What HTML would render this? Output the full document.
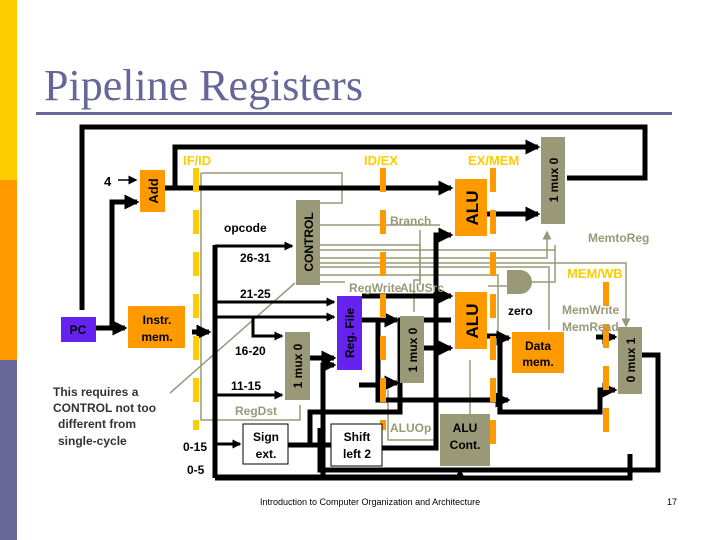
<!DOCTYPE html>
<html><head><meta charset="utf-8"><style>
html,body{margin:0;padding:0;background:#fff;}
svg{display:block}
text{font-family:"Liberation Sans",Arial,sans-serif;font-weight:bold}
</style></head><body>
<svg width="720" height="540" viewBox="0 0 720 540" xmlns="http://www.w3.org/2000/svg">
<defs>
<marker id="a" markerWidth="3" markerHeight="3" refX="2.5" refY="1.5" orient="auto" markerUnits="strokeWidth"><path d="M0,0 L3,1.5 L0,3 z" fill="#000"/></marker>
<marker id="b" markerWidth="6" markerHeight="6" refX="5" refY="3" orient="auto" markerUnits="strokeWidth"><path d="M0,0 L6,3 L0,6 z" fill="#000"/></marker>
<marker id="g" markerWidth="6" markerHeight="6" refX="5" refY="3" orient="auto" markerUnits="strokeWidth"><path d="M0,0 L6,3 L0,6 z" fill="#999977"/></marker>
</defs>
<rect x="0" y="0" width="17" height="180" fill="#FFCC00"/>
<rect x="0" y="180" width="17" height="180" fill="#FF9900"/>
<rect x="0" y="360" width="17" height="180" fill="#666699"/>
<text x="44" y="100" font-size="44" fill="#666699" style="font-family:'Liberation Serif',serif;font-weight:normal">Pipeline Registers</text>
<rect x="36" y="112" width="636" height="3" fill="#666699"/>

<g stroke="#999977" stroke-width="1.5" fill="none">
<polyline points="201,173 342,173 342,203 320,203"/>
<polyline points="201,173 201,420 300,420 300,405"/>
<line x1="320" y1="225" x2="440" y2="225"/>
<polyline points="320,245 420,245 420,278 420,285"/>
<line x1="320" y1="250" x2="555" y2="250"/>
<polyline points="320,258 547,258 547,232" marker-end="url(#g)"/>
<polyline points="320,263 626,263 626,326" marker-end="url(#g)"/>
<polyline points="320,267 549,267 549,330"/>
<polyline points="320,275 498,275 498,414"/>
<line x1="320" y1="282" x2="345" y2="282"/>
<polyline points="420,230 420,280 414,280 414,312"/>
<polyline points="388,390 388,440 438,440"/>
<line x1="470" y1="360" x2="470" y2="414"/>
<line x1="488" y1="286" x2="508" y2="286"/>
<polyline points="532,282 555,282 555,245"/>
<line x1="170" y1="393" x2="295" y2="283"/>
</g>

<g stroke="#000" stroke-width="5" fill="none">
<polyline points="82,310 82,127 645,127 645,178 567,178"/>
<polyline points="175,188 175,147 538,147" marker-end="url(#a)"/>
<polyline points="165,188 451,188" marker-end="url(#a)"/>
<polyline points="96,328 125,328" marker-end="url(#a)"/>
<polyline points="112,328 112,202 137,202" marker-end="url(#a)"/>
<polyline points="192,332 209,332" marker-end="url(#a)"/>
<line x1="215" y1="245" x2="215" y2="478"/>
<polyline points="215,478 630,478 630,454"/>
</g>
<g stroke="#000" stroke-width="3" fill="none">
<polyline points="215,246 292,246" marker-end="url(#a)"/>
<polyline points="215,302 334,302" marker-end="url(#a)"/>
<polyline points="215,317 334,317" marker-end="url(#a)"/>
<polyline points="253,317 253,336 282,336" marker-end="url(#a)"/>
<polyline points="215,395 282,395" marker-end="url(#a)"/>
<polyline points="215,444 240,444" marker-end="url(#a)"/>
<polyline points="215,476 460,476 460,470" marker-end="url(#a)"/>
</g>
<g stroke="#000" stroke-width="5" fill="none">
<polyline points="310,358 334,358" marker-end="url(#a)"/>
<polyline points="288,445 331,445"/>
<polyline points="310,445 310,412 400,412 400,320 451,320"/>
<polyline points="323,480 323,365 334,365" marker-end="url(#a)"/>
<polyline points="362,296 451,296" marker-end="url(#a)"/>
<polyline points="362,320 397,320" marker-end="url(#a)"/>
<polyline points="378,320 378,400 508,400" marker-end="url(#a)"/>
<polyline points="359,385 385,385 385,383 397,383" marker-end="url(#a)"/>
<polyline points="424,348 451,348" marker-end="url(#a)"/>
<polyline points="436,348 436,235 451,235" marker-end="url(#a)"/>
<polyline points="436,348 436,448 382,448"/>
<polyline points="487,214 538,214" marker-end="url(#a)"/>
<polyline points="487,336 500,336 500,338 509,338" marker-end="url(#a)"/>
<polyline points="500,338 500,412 600,412 600,390 615,390" marker-end="url(#a)"/>
<polyline points="596,337 615,337" marker-end="url(#a)"/>
<polyline points="642,355 658,355 658,470 320,470 320,428"/>
</g>

<line x1="196" y1="168" x2="196" y2="430" stroke="#FFCC00" stroke-width="6" stroke-dasharray="24,18"/>
<line x1="383" y1="168" x2="383" y2="430" stroke="#FF9900" stroke-width="6" stroke-dasharray="24,18"/>
<line x1="493" y1="168" x2="493" y2="445" stroke="#FF9900" stroke-width="6" stroke-dasharray="24,18"/>
<line x1="606" y1="282" x2="606" y2="432" stroke="#FF9900" stroke-width="6" stroke-dasharray="24,18"/>
<g fill="#FFCC00" font-size="13">
<text x="183" y="165">IF/ID</text>
<text x="364" y="165">ID/EX</text>
<text x="468" y="165">EX/MEM</text>
<text x="567" y="278">MEM/WB</text>
</g>

<rect x="140" y="170" width="25" height="42" fill="#FF9900"/>
<text transform="translate(158,191) rotate(-90)" text-anchor="middle" font-size="13">Add</text>
<text x="104" y="186" font-size="13">4</text>
<line x1="118" y1="180" x2="136" y2="180" stroke="#000" stroke-width="1.5" marker-end="url(#b)"/>
<rect x="61" y="317" width="35" height="25" fill="#6622EE"/>
<text x="78" y="334" text-anchor="middle" font-size="12">PC</text>
<rect x="128" y="306" width="57" height="42" fill="#FF9900"/>
<text x="157" y="324" text-anchor="middle" font-size="12">Instr.</text>
<text x="157" y="341" text-anchor="middle" font-size="12">mem.</text>
<rect x="296" y="200" width="24" height="85" fill="#999977"/>
<text transform="translate(313,242) rotate(-90)" text-anchor="middle" font-size="12">CONTROL</text>
<rect x="285" y="332" width="25" height="68" fill="#999977"/>
<text transform="translate(302,366) rotate(-90)" text-anchor="middle" font-size="12">1 mux 0</text>
<rect x="337" y="296" width="25" height="74" fill="#6622EE"/>
<text transform="translate(354,333) rotate(-90)" text-anchor="middle" font-size="12">Reg. File</text>
<rect x="400" y="316" width="24" height="67" fill="#999977"/>
<text transform="translate(417,350) rotate(-90)" text-anchor="middle" font-size="12">1 mux 0</text>
<rect x="455" y="179" width="32" height="57" fill="#FF9900"/>
<text transform="translate(478,208) rotate(-90)" text-anchor="middle" font-size="17">ALU</text>
<rect x="455" y="292" width="32" height="57" fill="#FF9900"/>
<text transform="translate(478,321) rotate(-90)" text-anchor="middle" font-size="17">ALU</text>
<rect x="541" y="137" width="24" height="87" fill="#999977"/>
<text transform="translate(558,180) rotate(-90)" text-anchor="middle" font-size="12">1 mux 0</text>
<path d="M507,270 L520,270 A12,12 0 0 1 520,294 L507,294 z" fill="#999977"/>
<rect x="512" y="332" width="52" height="41" fill="#FF9900"/>
<text x="538" y="350" text-anchor="middle" font-size="12">Data</text>
<text x="538" y="366" text-anchor="middle" font-size="12">mem.</text>
<rect x="618" y="327" width="24" height="67" fill="#999977"/>
<text transform="translate(635,360) rotate(-90)" text-anchor="middle" font-size="12">0 mux 1</text>
<rect x="243" y="424" width="45" height="40" fill="#fff" stroke="#000"/>
<text x="266" y="441" text-anchor="middle" font-size="12">Sign</text>
<text x="266" y="458" text-anchor="middle" font-size="12">ext.</text>
<rect x="331" y="424" width="51" height="42" fill="#fff" stroke="#000"/>
<text x="357" y="441" text-anchor="middle" font-size="12">Shift</text>
<text x="357" y="458" text-anchor="middle" font-size="12">left 2</text>
<rect x="440" y="414" width="50" height="52" fill="#999977"/>
<text x="465" y="432" text-anchor="middle" font-size="12">ALU</text>
<text x="465" y="449" text-anchor="middle" font-size="12">Cont.</text>

<g font-size="12">
<text x="224" y="232">opcode</text>
<text x="240" y="262">26-31</text>
<text x="240" y="298">21-25</text>
<text x="235" y="355">16-20</text>
<text x="231" y="390">11-15</text>
<text x="183" y="451">0-15</text>
<text x="187" y="474">0-5</text>
<text x="508" y="315">zero</text>
</g>
<g font-size="12" fill="#999977">
<text x="390" y="225">Branch</text>
<text x="349" y="292">RegWrite</text>
<text x="400" y="292">ALUSrc</text>
<text x="588" y="242">MemtoReg</text>
<text x="562" y="314">MemWrite</text>
<text x="562" y="331">MemRead</text>
<text x="235" y="415">RegDst</text>
<text x="390" y="432">ALUOp</text>
</g>
<g font-size="12" fill="#333">
<text x="53" y="396">This requires a</text>
<text x="53" y="412">CONTROL not too</text>
<text x="58" y="428">different from</text>
<text x="58" y="445">single-cycle</text>
</g>
<text x="260" y="505" font-size="9" style="font-weight:normal">Introduction to Computer Organization and Architecture</text>
<text x="667" y="505" font-size="9" style="font-weight:normal">17</text>
</svg>
</body></html>
